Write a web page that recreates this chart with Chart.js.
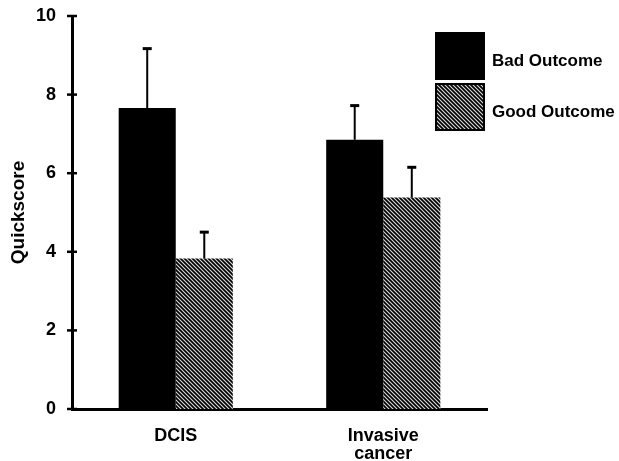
<!DOCTYPE html>
<html>
<head>
<meta charset="utf-8">
<script src="https://cdn.jsdelivr.net/npm/chart.js@4/dist/chart.umd.min.js"></script>
<style>
html,body{margin:0;padding:0;background:#fff;}
#wrap{width:619px;height:461px;}
</style>
</head>
<body>
<div id="wrap"><canvas id="c" width="619" height="461"></canvas></div>
<script>
// ---- data ----
const categories = ['DCIS', ['Invasive', 'cancer']];
const seriesNames = ['Bad Outcome', 'Good Outcome'];
const badValues = [7.66, 6.85];
const goodValues = [3.83, 5.38];
const badErrors = [1.51, 0.87];
const goodErrors = [0.67, 0.77];
const yTicks = [0, 2, 4, 6, 8, 10];

const FONT = '"Liberation Sans", Arial, Helvetica, sans-serif';

function makeHatch(){
  const p = document.createElement('canvas');
  p.width = 4; p.height = 4;
  const g = p.getContext('2d');
  g.fillStyle = '#000';
  g.fillRect(0,0,4,4);
  g.strokeStyle = '#dddddd';
  g.lineWidth = 1.1;
  g.beginPath();
  g.moveTo(-1,-1); g.lineTo(5,5);
  g.moveTo(3,-1); g.lineTo(5,1);
  g.moveTo(-1,3); g.lineTo(1,5);
  g.stroke();
  return document.getElementById('c').getContext('2d').createPattern(p,'repeat');
}
const hatch = makeHatch();

const errorPlugin = {
  id: 'errs',
  afterDatasetsDraw(chart){
    const ctx = chart.ctx;
    const ys = chart.scales.y;
    const errs = [badErrors, goodErrors];
    ctx.save();
    ctx.strokeStyle = '#000';
    chart.data.datasets.forEach((ds, di) => {
      const meta = chart.getDatasetMeta(di);
      meta.data.forEach((bar, i) => {
        const v = ds.data[i];
        const yTop = ys.getPixelForValue(v + errs[di][i]);
        const yBar = ys.getPixelForValue(v);
        ctx.lineWidth = 2;
        ctx.beginPath();
        ctx.moveTo(bar.x, yBar);
        ctx.lineTo(bar.x, yTop);
        ctx.stroke();
        ctx.lineWidth = 3;
        ctx.beginPath();
        ctx.moveTo(bar.x - 4.5, yTop);
        ctx.lineTo(bar.x + 4.5, yTop);
        ctx.stroke();
      });
    });
    ctx.restore();
  }
};

const tickPlugin = {
  id: 'tickmarks',
  afterDraw(chart){
    const ctx = chart.ctx;
    const ys = chart.scales.y;
    const x0 = chart.chartArea.left;
    ctx.save();
    ctx.strokeStyle = '#000';
    ctx.lineWidth = 2.5;
    ys.ticks.forEach(t => {
      const y = ys.getPixelForValue(t.value);
      ctx.beginPath();
      ctx.moveTo(x0 - 5, y);
      ctx.lineTo(x0 + 5, y);
      ctx.stroke();
    });
    ctx.restore();
  }
};

const legendPlugin = {
  id: 'customLegend',
  afterDraw(chart){
    const ctx = chart.ctx;
    const ca = chart.chartArea;
    const bx = ca.right - 51, bw = 48, bh = 46;
    const tops = [33, 84];
    ctx.save();
    chart.data.datasets.forEach((ds, i) => {
      const y = tops[i];
      ctx.fillStyle = ds.backgroundColor;
      ctx.fillRect(bx, y, bw, bh);
      ctx.strokeStyle = '#000';
      ctx.lineWidth = 2;
      ctx.strokeRect(bx, y, bw, bh);
      ctx.fillStyle = '#000';
      ctx.font = 'bold 17px ' + FONT;
      ctx.textBaseline = 'middle';
      ctx.textAlign = 'left';
      ctx.fillText(ds.label, bx + 56, y + 28);
    });
    ctx.restore();
  }
};

new Chart(document.getElementById('c'), {
  type: 'bar',
  data: {
    labels: categories,
    datasets: [
      { label: seriesNames[0], data: badValues, backgroundColor: '#000', borderWidth: 0 },
      { label: seriesNames[1], data: goodValues, backgroundColor: hatch, borderColor: '#000', borderWidth: 0 }
    ]
  },
  options: {
    responsive: false,
    animation: false,
    devicePixelRatio: 1,
    layout: { padding: { left: 0, right: 132, top: 16, bottom: 0 } },
    categoryPercentage: 0.55,
    barPercentage: 1.0,
    plugins: { legend: { display: false }, tooltip: { enabled: false } },
    scales: {
      x: {
        grid: { display: false, drawTicks: false },
        border: { display: true, color: '#000', width: 3 },
        ticks: {
          color: '#000',
          padding: 18,
          maxRotation: 0,
          font: { family: FONT, size: 18, weight: 'bold', lineHeight: 1.0 }
        },
        afterFit(s){ s.height = 52; }
      },
      y: {
        min: 0, max: 10,
        afterBuildTicks(s){ s.ticks = yTicks.map(v => ({ value: v })); },
        grid: { display: false, drawTicks: false },
        border: { display: true, color: '#000', width: 3 },
        ticks: {
          color: '#000',
          padding: 16,
          font: { family: FONT, size: 18, weight: 'bold' }
        },
        title: {
          display: true,
          text: 'Quickscore',
          color: '#000',
          padding: { top: 7, bottom: 0 },
          font: { family: FONT, size: 19, weight: 'bold' }
        },
        afterFit(s){ s.width = 72; s.paddingTop = 0; s.paddingBottom = 0; }
      }
    }
  },
  plugins: [errorPlugin, tickPlugin, legendPlugin]
});
</script>
</body>
</html>
